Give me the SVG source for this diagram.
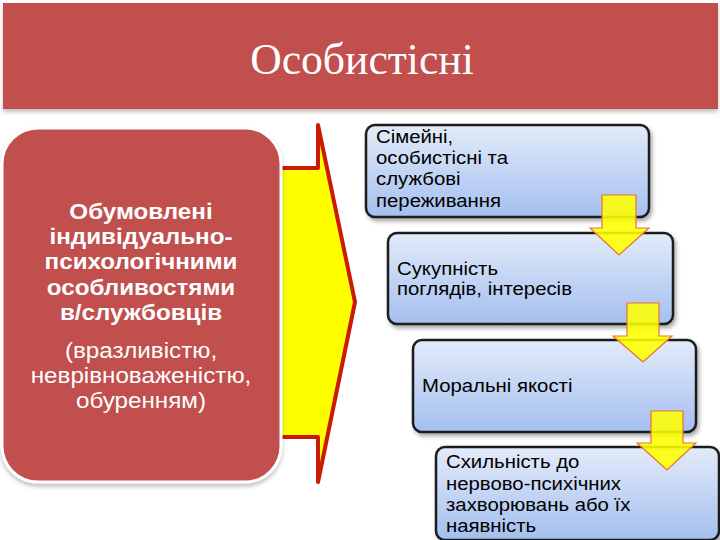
<svg xmlns="http://www.w3.org/2000/svg" width="720" height="540" viewBox="0 0 720 540">
<defs>
<linearGradient id="blue" x1="0" y1="0" x2="0" y2="1">
<stop offset="0" stop-color="#E3EBF9"/>
<stop offset="1" stop-color="#A4BFEF"/>
</linearGradient>
<filter id="sh" x="-10%" y="-10%" width="130%" height="130%">
<feDropShadow dx="2" dy="3" stdDeviation="2" flood-color="#000" flood-opacity="0.35"/>
</filter>
<filter id="sh2" x="-10%" y="-10%" width="130%" height="130%">
<feDropShadow dx="0" dy="3" stdDeviation="2" flood-color="#000" flood-opacity="0.25"/>
</filter>
</defs>
<style>
.box{fill:url(#blue);stroke:#1a1a1a;stroke-width:2.5}
.bt{font-family:"Liberation Sans",Arial,sans-serif;font-size:18.5px;fill:#000}
.sa{fill:#FFFF00;fill-opacity:0.88;stroke:#E8703A;stroke-width:1.2}
.lt{font-family:"Liberation Sans",Arial,sans-serif;font-size:22px;fill:#fff;text-anchor:middle}
</style>
<rect width="720" height="540" fill="#fff"/>
<g id="title">
<rect x="3" y="3" width="715" height="106" fill="#C0504D" filter="url(#sh2)"/>
<text transform="translate(362,0) scale(0.97,1)" x="0" y="74" font-family="Liberation Serif,'Times New Roman',serif" font-size="45" fill="#fff" text-anchor="middle">Особистісні</text>
</g>
<g id="bigArrow">
<polygon points="260,168 318,168 318,125 355,302 318,482 318,437 260,437" fill="#FFFF00" stroke="#CC1A00" stroke-width="4" stroke-linejoin="round"/>
</g>
<g id="leftBox">
<rect x="2" y="128" width="279" height="354" rx="36" fill="#C0504D" stroke="#fff" stroke-width="3" filter="url(#sh2)"/>
<g transform="translate(141,0) scale(1.1,1)">
<text class="lt" font-weight="bold"><tspan x="0" y="219">Обумовлені</tspan><tspan x="0" y="244">індивідуально-</tspan><tspan x="0" y="269">психологічними</tspan><tspan x="0" y="295">особливостями</tspan><tspan x="0" y="320">в/службовців</tspan></text>
<text class="lt"><tspan x="0" y="358">(вразливістю,</tspan><tspan x="0" y="383">неврівноваженістю,</tspan><tspan x="0" y="408">обуренням)</tspan></text>
</g>
</g>
<g id="box1">
<rect class="box" x="366" y="125" width="283" height="92" rx="9" filter="url(#sh)"/>
<text class="bt" transform="translate(376,0) scale(1.1,1)"><tspan x="0" y="143">Сімейні,</tspan><tspan x="0" y="164">особистісні та</tspan><tspan x="0" y="185">службові</tspan><tspan x="0" y="207">переживання</tspan></text>
</g>
<g id="box2">
<rect class="box" x="388" y="233" width="285" height="91" rx="9" filter="url(#sh)"/>
<text class="bt" transform="translate(397,0) scale(1.1,1)"><tspan x="0" y="275">Сукупність</tspan><tspan x="0" y="295">поглядів, інтересів</tspan></text>
</g>
<g id="box3">
<rect class="box" x="413" y="340" width="283" height="92" rx="9" filter="url(#sh)"/>
<text class="bt" transform="translate(422,0) scale(1.1,1)" x="0" y="392">Моральні якості</text>
</g>
<g id="box4">
<rect class="box" x="436" y="447" width="283" height="93" rx="9" filter="url(#sh)"/>
<text class="bt" transform="translate(446,0) scale(1.1,1)"><tspan x="0" y="468">Схильність до</tspan><tspan x="0" y="490">нервово-психічних</tspan><tspan x="0" y="511">захворювань або їх</tspan><tspan x="0" y="532">наявність</tspan></text>
</g>
<g id="connectors">
<polygon class="sa" points="602,195 636,195 636,228 649,228 619,255 590,228 602,228"/>
<polygon class="sa" points="627,303 659,303 659,336 672,336 643,362 613,336 627,336"/>
<polygon class="sa" points="651,411 683,411 683,443 696,443 667,470 637,443 651,443"/>
</g>
</svg>
